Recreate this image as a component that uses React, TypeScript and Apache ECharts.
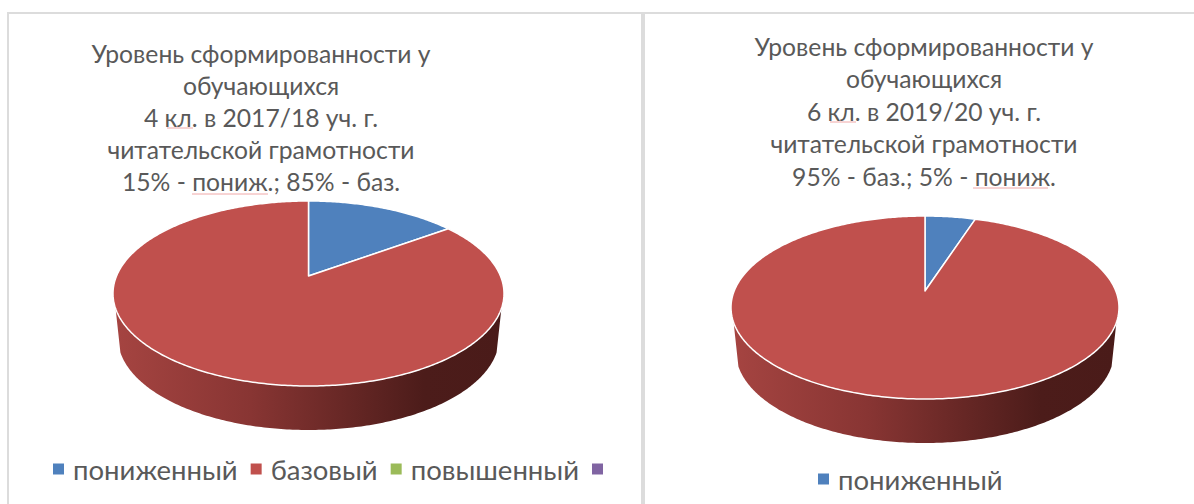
import React, { useEffect, useRef } from "react";
import * as echarts from "echarts";

const categories = ["пониженный", "базовый", "повышенный", " "];
const colors = ["#4f81bd", "#c0504d", "#9bbb59", "#8064a2"];
const valuesLeft = [15, 85, 0, 0];
const valuesRight = [5, 95, 0, 0];
const titleLeft = "Уровень сформированности у\nобучающихся\n4 кл. в 2017/18 уч. г.\nчитательской грамотности\n15% - пониж.; 85% - баз.";
const titleRight = "Уровень сформированности у\nобучающихся\n6 кл. в 2019/20 уч. г.\nчитательской грамотности\n95% - баз.; 5% - пониж.";

const TEXT = "#595959";
const FONT = "Lato";

type Geo = { ax: number; ay: number; up: number; down: number; halfW: number; depth: number; wallDrop: number };
const geoLeft: Geo = { ax: 308.5, ay: 276, up: 75, down: 110, halfW: 195.5, depth: 44, wallDrop: 32.5 };
const geoRight: Geo = { ax: 925, ay: 291, up: 75, down: 108, halfW: 194, depth: 44, wallDrop: 31.5 };
const WALL_NARROW = 0.975;

function projector(g: Geo) {
  const k = (g.down - g.up) / (g.down + g.up);
  const A = g.up * (1 + k);
  const B = g.halfW * Math.sqrt(1 - k * k);
  return {
    k,
    A,
    at(turn: number): [number, number] {
      const t = turn * 2 * Math.PI;
      const u = Math.sin(t);
      const v = -Math.cos(t);
      const w = 1 - k * v;
      return [g.ax + (B * u) / w, g.ay + (A * v) / w];
    },
  };
}

function samples(a: number, b: number, step = 0.002) {
  const out: number[] = [];
  const n = Math.max(2, Math.ceil((b - a) / step));
  for (let i = 0; i <= n; i++) out.push(a + ((b - a) * i) / n);
  return out;
}

function seriesFor(values: number[], g: Geo) {
  const total = values.reduce((s, v) => s + v, 0);
  const p = projector(g);
  // the side wall starts a little below the widest points of the rim
  const wallV = g.wallDrop / (p.A + p.k * g.wallDrop);
  const frontStart = Math.acos(-wallV) / (2 * Math.PI);
  const frontEnd = 1 - frontStart;
  let acc = 0;
  return values.map((val, i) => {
    const start = acc / total;
    acc += val;
    const end = acc / total;
    return {
      type: "custom",
      name: categories[i],
      coordinateSystem: "none",
      silent: true,
      itemStyle: { color: colors[i] },
      data: [[start, end]],
      renderItem: (_: any, api: any) => {
        const a = api.value(0) as number;
        const b = api.value(1) as number;
        if (b <= a) return null;
        const children: any[] = [];
        const ws = Math.max(a, frontStart);
        const we = Math.min(b, frontEnd);
        if (we > ws) {
          const top = samples(ws, we).map((t) => p.at(t));
          const bottom = top.map(([x, y]) => [g.ax + (x - g.ax) * WALL_NARROW, y + g.depth]).reverse();
          children.push({
            type: "polygon",
            shape: { points: [...top, ...bottom] },
            style: {
              fill: new echarts.graphic.LinearGradient(0, 0, 1, 0, [
                { offset: 0, color: "#a54441" },
                { offset: 0.35, color: "#883533" },
                { offset: 0.8, color: "#4c1c1a" },
                { offset: 1, color: "#4a1b19" },
              ]),
            },
          });
        }
        const rim = samples(a, b).map((t) => p.at(t));
        children.push({
          type: "polygon",
          shape: { points: [[g.ax, g.ay], ...rim] },
          style: { fill: colors[i], stroke: "#ffffff", lineWidth: 1.5, lineJoin: "round" },
        });
        return { type: "group", children };
      },
    };
  });
}

const legendBase = {
  orient: "horizontal",
  icon: "rect",
  itemWidth: 11,
  itemHeight: 11,
  selectedMode: false,
  textStyle: { fontFamily: FONT, fontSize: 27.5, color: TEXT, padding: [0, 0, 0, 4] },
};

const titleBase = {
  textAlign: "center",
  textStyle: { fontFamily: FONT, fontWeight: "normal", fontSize: 24.7, color: TEXT },
};

function underline(x1: number, x2: number, y: number) {
  return { type: "line", silent: true, shape: { x1, y1: y, x2, y2: y }, style: { stroke: "#f0a8a8", lineWidth: 1 } };
}

function panel(x: number, y: number, w: number, h: number) {
  return { type: "rect", silent: true, shape: { x, y, width: w, height: h }, style: { fill: "none", stroke: "#dcdcdc", lineWidth: 2 } };
}

export default function App() {
  const ref = useRef<HTMLDivElement>(null);
  useEffect(() => {
    const chart = echarts.init(ref.current!, undefined, { renderer: "svg" });
    chart.setOption({
      animation: false,
      backgroundColor: "#ffffff",
      title: [
        { ...titleBase, text: titleLeft, left: 256, top: 32, textStyle: { ...titleBase.textStyle, lineHeight: 32 } },
        { ...titleBase, text: titleRight, left: 919, top: 25, textStyle: { ...titleBase.textStyle, lineHeight: 32.5 } },
      ],
      legend: [
        { ...legendBase, data: categories, left: 48, top: 450, itemGap: 13 },
        { ...legendBase, data: [categories[0]], left: 813, top: 460 },
      ],
      graphic: [
        panel(8, 13, 634, 500),
        panel(644, 13, 560, 500),
        underline(167, 193, 128),
        underline(192, 268, 194),
        underline(830, 856, 122),
        underline(973, 1048, 188),
      ],
      series: [...seriesFor(valuesLeft, geoLeft), ...seriesFor(valuesRight, geoRight)],
    });
    return () => chart.dispose();
  }, []);
  return <div ref={ref} style={{ position: "fixed", left: 0, top: 0, width: 1194, height: 504 }} />;
}
